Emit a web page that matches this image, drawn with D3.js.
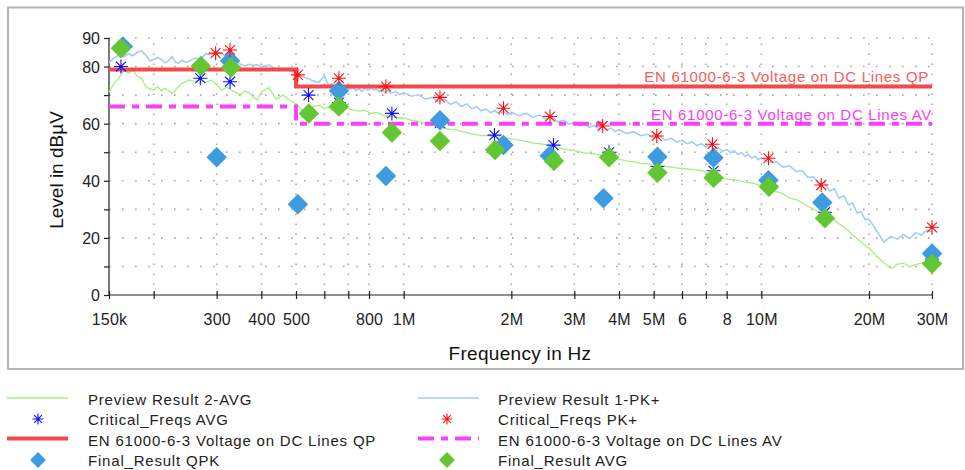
<!DOCTYPE html>
<html><head><meta charset="utf-8">
<script src="https://cdn.jsdelivr.net/npm/d3@7"></script>
<style>
html,body{margin:0;padding:0;background:#fff;}
svg{display:block;font-family:"Liberation Sans",Arial,sans-serif;}
</style></head>
<body>
<svg id="chart" width="965" height="470"></svg>
<script>
// ---------- DATA (frequency in MHz, level in dBµV) ----------
const xTickValues = [0.15,0.2,0.3,0.4,0.5,0.6,0.7,0.8,1,2,3,4,5,6,7,8,10,20,30];
const xTickLabels = ["150k","","300","400","500","","","800","1M","2M","3M","4M","5M","6","","8","10M","20M","30M"];
const yTickValues = [0,10,20,30,40,50,60,70,80,90];
const yTickLabels = ["0","","20","","40","","60","","80","90"];

const previewPK = [[0.150,81.5],[0.155,83],[0.160,84],[0.165,83.5],[0.170,84.5],[0.175,83.8],[0.180,85],[0.185,85.5],[0.190,84],[0.195,82],
[0.200,82.5],[0.205,83.2],[0.210,82.5],[0.215,81.3],[0.220,82],[0.225,83.5],[0.230,81.5],[0.235,81.2],[0.240,82.3],[0.245,81.5],
[0.250,81.8],[0.260,83],[0.270,82.5],[0.280,84.5],[0.290,84.2],[0.300,85.2],[0.310,84.5],[0.320,83.5],[0.330,83],[0.340,82],
[0.350,80.8],[0.360,80.2],[0.370,80.8],[0.380,80.4],[0.390,80.6],[0.400,80],[0.420,80.5],[0.440,79],[0.460,79.4],[0.480,78.6],
[0.500,77.5],[0.520,76.5],[0.540,75.8],[0.560,74.9],[0.580,74.5],[0.600,76.8],[0.615,73.6],[0.630,74],[0.645,73.2],[0.660,73.8],
[0.675,72.6],[0.690,73],[0.705,72.1],[0.720,72.6],[0.735,71.6],[0.750,72.2],[0.765,71.4],[0.780,72.4],[0.795,71.6],[0.810,72.6],
[0.825,71.8],[0.840,72.2],[0.855,71.2],[0.870,71.8],[0.885,70.9],[0.900,71.6],[0.925,70.6],[0.950,71.3],[0.975,70.2],[1.00,70.9],
[1.05,69.6],[1.10,70.1],[1.15,68.6],[1.20,69.2],[1.25,67.8],[1.30,68.6],[1.35,66.8],[1.40,67.6],[1.45,66],[1.50,66.9],
[1.55,65.2],[1.60,65.9],[1.65,64.5],[1.70,65.1],[1.75,63.8],[1.80,64.6],[1.85,63.3],[1.90,64.2],[1.95,63.1],[2.0,64],
[2.1,62.8],[2.2,63.6],[2.3,62.2],[2.4,63],[2.5,61.6],[2.6,62.2],[2.7,60.6],[2.8,61.2],[2.9,59.8],[3.0,60.5],
[3.1,59.2],[3.2,59.9],[3.3,58.6],[3.4,59.4],[3.5,58.3],[3.6,59.1],[3.7,57.8],[3.8,58.4],[3.9,57.2],[4.0,57.9],
[4.2,56.6],[4.4,57.1],[4.6,55.8],[4.8,56.3],[5.0,55],[5.2,55.6],[5.4,54.2],[5.6,54.9],[5.8,53.6],[6.0,54.2],
[6.2,53],[6.4,53.6],[6.6,52.3],[6.8,53],[7.0,51.8],[7.2,52.4],[7.4,51.2],[7.6,51.6],[7.8,50.3],[8.0,51],
[8.2,49.8],[8.4,50.5],[8.6,49.2],[8.8,49.9],[9.0,48.6],[9.2,49.3],[9.4,47.9],[9.6,48.6],[9.8,47.4],[10,48],
[10.5,46.5],[11,46.8],[11.5,44.8],[12,45.2],[12.5,43.2],[13,43.6],[13.5,41.2],[14,41.4],[14.5,38.6],[15,39.6],
[15.5,36.4],[16,37.2],[16.5,33.8],[17,34.8],[17.5,31.6],[18,32.2],[18.5,28.8],[19,29.2],[19.5,26.4],[20,26.6],
[21,22.5],[22,18.5],[23,20.5],[24,19.6],[25,21.2],[26,19.8],[27,21.8],[28,21],[29,22.6],[30,22.2]];

const previewAVG = [[0.150,71],[0.155,74],[0.160,76],[0.165,78.8],[0.170,77.7],[0.175,78.8],[0.180,76.5],[0.185,75.9],[0.190,73],[0.195,72.2],
[0.200,71.8],[0.205,73],[0.210,71.5],[0.215,72.4],[0.220,71.5],[0.225,70.6],[0.230,71.8],[0.235,73],[0.240,74.2],[0.245,74.5],
[0.250,75.3],[0.260,74.8],[0.270,75.3],[0.280,74.5],[0.290,75.3],[0.300,73.6],[0.310,71.8],[0.320,72.8],[0.330,71.8],[0.340,70.8],
[0.350,70.2],[0.360,71.4],[0.370,70.8],[0.380,69.2],[0.390,68.3],[0.400,71.2],[0.420,72.6],[0.440,68.5],[0.460,70],[0.480,68.3],
[0.500,67],[0.520,64.8],[0.540,64.2],[0.560,66],[0.580,66.5],[0.600,65.2],[0.615,65.8],[0.630,64.6],[0.645,65.4],[0.660,64.8],
[0.690,65.6],[0.720,64.8],[0.750,64.4],[0.780,64.6],[0.810,63.6],[0.840,63.9],[0.870,63],[0.900,62.6],[0.950,62.2],[1.00,61.9],
[1.05,61.2],[1.10,60.8],[1.15,60],[1.20,59.4],[1.25,58.8],[1.30,58.4],[1.35,58],[1.40,57.9],[1.45,57.3],[1.50,56.9],
[1.55,56.4],[1.60,56.2],[1.65,55.8],[1.70,55.9],[1.80,55.4],[1.90,55.1],[2.0,54.7],[2.1,54.2],[2.2,53.8],[2.3,53.2],
[2.4,53],[2.5,52.6],[2.6,52.2],[2.8,51.1],[3.0,50.6],[3.2,49.8],[3.4,49.4],[3.6,48.8],[3.8,48.2],[4.0,47.5],
[4.2,47],[4.4,46.6],[4.6,46.1],[4.8,46],[5.0,45.6],[5.2,45.5],[5.4,45],[5.6,44.8],[5.8,44.5],[6.0,44.3],
[6.4,44],[6.8,43.6],[7.2,42.1],[7.6,41.4],[8.0,40.6],[8.5,40.2],[9.0,39.6],[9.5,39.1],[10,38.3],[10.5,37.1],
[11,36.2],[11.5,35.4],[12,33.9],[12.5,33.4],[13,32.4],[13.5,31],[14,30.2],[14.5,29],[15,28.4],[15.5,27.4],
[16,26.3],[16.5,24.9],[17,23.7],[17.5,22.6],[18,21],[18.5,19.9],[19,18.6],[19.5,17.4],[20,16.4],[21,13.6],
[22,11.3],[23,9.4],[23.5,9.8],[24,10.8],[25,11.1],[26,9.9],[27,10.6],[28,11.2],[29,11.7],[30,12]];

const criticalAVG = [[0.162,80.0],[0.270,75.9],[0.327,74.7],[0.542,70.0],[0.659,67.4],[0.927,63.6],[1.263,60.2],[1.794,56.0],[2.623,52.5],[3.75,50.0],[5.12,45.0],[7.35,43.5],[10.5,39.0],[15.06,29.0],[30,12.6]];
const criticalPK = [[0.298,84.7],[0.327,85.8],[0.506,77.1],[0.659,75.9],[0.892,73.0],[1.263,69.2],[1.901,65.4],[2.565,62.5],[3.60,59.2],[5.10,55.7],[7.30,52.8],[10.47,47.9],[14.7,38.5],[30,23.7]];
const finalQPK = [[0.164,87.0],[0.300,48.2],[0.327,82.0],[0.506,31.8],[0.659,71.5],[0.892,41.7],[1.263,61.2],[1.901,52.5],[2.56,48.8],[3.62,33.9],[5.12,48.4],[7.35,48.1],[10.47,40.2],[14.8,32.4],[30,14.5]];
const finalAVG = [[0.162,86.4],[0.271,80.2],[0.329,79.7],[0.543,63.6],[0.659,66.0],[0.927,56.9],[1.263,53.9],[1.80,50.8],[2.63,46.9],[3.75,48.2],[5.12,42.8],[7.35,41.1],[10.5,37.9],[15.06,26.9],[30,10.9]];
const limitQP = [[0.15,79],[0.5,79],[0.5,73],[30,73]];
const limitAV = [[0.15,66],[0.5,66],[0.5,60],[30,60]];

const labelQP = "EN 61000-6-3 Voltage on DC Lines QP";
const labelAV = "EN 61000-6-3 Voltage on DC Lines AV";
const legendLeft = ["Preview Result 2-AVG","Critical_Freqs AVG","EN 61000-6-3 Voltage on DC Lines QP","Final_Result QPK"];
const legendRight = ["Preview Result 1-PK+","Critical_Freqs PK+","EN 61000-6-3 Voltage on DC Lines AV","Final_Result AVG"];

// ---------- STYLE ----------
const C = {
  pk: "#a4cdf6", avg: "#a6ef7c", qp: "#f5484a", av: "#fb40fb",
  qpk: "#3d9be0", favg: "#63c734", critAvg: "#1010ff", critPk: "#ff1010",
  qpText: "#f2605c", avText: "#f53ff5", axis: "#222", grid: "#a8a8a8"
};

const svg = d3.select("#chart");
const x = d3.scaleLog().domain([0.15, 30]).range([109, 932]);
const y = d3.scaleLinear().domain([0, 90]).range([295, 38]);

// frame
svg.append("rect").attr("x", 8).attr("y", 7.5).attr("width", 955).attr("height", 361.5)
  .attr("fill", "none").attr("stroke", "#b4b4b4").attr("stroke-width", 2);

// grid
const grid = svg.append("g");
grid.selectAll(".hg").data(yTickValues.filter(v => v > 0)).join("line")
  .attr("x1", x(0.15)).attr("x2", x(30)).attr("y1", d => y(d)).attr("y2", d => y(d))
  .attr("stroke", C.grid).attr("stroke-width", 1.6).attr("stroke-dasharray", "1.6,11.4");
grid.selectAll(".vg").data(xTickValues.filter(v => v > 0.15)).join("line")
  .attr("x1", d => x(d)).attr("x2", d => x(d)).attr("y1", y(0)).attr("y2", y(90))
  .attr("stroke", C.grid).attr("stroke-width", 1.6).attr("stroke-dasharray", "1.6,8.4");

// axes
const xAxis = d3.axisBottom(x).tickValues(xTickValues).tickSize(4).tickFormat((d, i) => xTickLabels[i]);
const gx = svg.append("g").attr("transform", `translate(0,${y(0)})`).call(xAxis);
gx.select(".domain").attr("stroke", C.axis).attr("stroke-width", 1.2).attr("d", `M${x(0.15)},0H${x(30)}`);
gx.selectAll(".tick line").attr("y1", -4).attr("y2", 4).attr("stroke", C.axis).attr("stroke-width", 1.2);
gx.selectAll(".tick text").attr("y", 30).attr("dy", 0).attr("fill", "#222")
  .style("font-size", "16px").style("letter-spacing", "0.2px").style("font-family", '"Liberation Sans",Arial,sans-serif');

const yAxis = d3.axisLeft(y).tickValues(yTickValues).tickSize(5).tickFormat((d, i) => yTickLabels[i]);
const gy = svg.append("g").attr("transform", `translate(${x(0.15)},0)`).call(yAxis);
gy.select(".domain").attr("stroke", C.axis).attr("stroke-width", 1.2).attr("d", `M0,${y(0)}V${y(90)}`);
gy.selectAll(".tick line").attr("stroke", C.axis).attr("stroke-width", 1.2);
gy.selectAll(".tick text").attr("x", -9).attr("dy", "0.36em").attr("fill", "#222")
  .style("font-size", "16px").style("font-family", '"Liberation Sans",Arial,sans-serif');

// axis titles
svg.append("text").attr("x", 520).attr("y", 360).attr("text-anchor", "middle")
  .style("font-size", "19px").style("letter-spacing", "0.3px").attr("fill", "#111").text("Frequency in Hz");
svg.append("text").attr("transform", "translate(63,170) rotate(-90)").attr("text-anchor", "middle")
  .style("font-size", "19px").attr("fill", "#111").text("Level in dBµV");

// traces
const line = d3.line().x(d => x(d[0])).y(d => y(d[1]));
const plot = svg.append("g");
plot.append("path").datum(previewAVG).attr("d", line).attr("fill", "none").attr("stroke", C.avg).attr("stroke-width", 1.3);
plot.append("path").datum(previewPK).attr("d", line).attr("fill", "none").attr("stroke", C.pk).attr("stroke-width", 1.6);

// limits
plot.append("path").datum(limitQP).attr("d", line).attr("fill", "none").attr("stroke", C.qp).attr("stroke-width", 4);
plot.append("path").datum(limitAV).attr("d", line).attr("fill", "none").attr("stroke", C.av).attr("stroke-width", 4)
  .attr("stroke-dasharray", "16,7,7,7");
svg.append("text").attr("x", x(30) - 3).attr("y", y(73) - 5).attr("text-anchor", "end")
  .style("font-size", "15px").style("letter-spacing", "0.7px").attr("fill", C.qpText).text(labelQP);
svg.append("text").attr("x", x(30)).attr("y", y(60) - 4).attr("text-anchor", "end")
  .style("font-size", "15px").style("letter-spacing", "0.7px").attr("fill", C.avText).text(labelAV);

// markers
const asterisk = r => {
  const d = r * 0.7071;
  return `M${-r},0H${r}M0,${-r}V${r}M${-d},${-d}L${d},${d}M${-d},${d}L${d},${-d}`;
};
const diamond = d3.symbol(d3.symbolSquare, 210);
function drawAst(g, data, color, r) {
  const s = g.selectAll(null).data(data).join("g").attr("transform", d => `translate(${x(d[0])},${y(d[1])})`);
  s.append("path").attr("d", asterisk(r)).attr("stroke", color).attr("stroke-width", 1.1).attr("fill", "none");
  s.append("circle").attr("r", 1.6).attr("fill", color);
}
function drawDia(g, data, color) {
  g.selectAll(null).data(data).join("path").attr("d", diamond)
    .attr("transform", d => `translate(${x(d[0])},${y(d[1])}) rotate(45)`).attr("fill", color);
}
drawAst(plot, criticalAVG, C.critAvg, 7);
drawDia(plot, finalQPK, C.qpk);
drawDia(plot, finalAVG, C.favg);
drawAst(plot, criticalPK, C.critPk, 7);

// legend
const rows = [399, 419, 440, 460];
const leg = svg.append("g").style("font-size", "15px").style("letter-spacing", "0.8px");
legendLeft.forEach((t, i) => leg.append("text").attr("x", 88).attr("y", rows[i] + 5.5).attr("fill", "#222").text(t));
legendRight.forEach((t, i) => leg.append("text").attr("x", 498).attr("y", rows[i] + 5.5).attr("fill", "#222").text(t));
const sample = (x0, yy, color, w, dash) => leg.append("line").attr("x1", x0).attr("x2", x0 + 61).attr("y1", yy).attr("y2", yy)
  .attr("stroke", color).attr("stroke-width", w).attr("stroke-dasharray", dash || null);
sample(7, rows[0] - 1, C.avg, 1.5);
sample(418, rows[0] - 1, C.pk, 1.5);
sample(7, rows[2] - 1.5, C.qp, 4);
sample(418, rows[2] - 1.5, C.av, 4, "16,7,7,7");
const legAst = (cx, cy, color) => {
  leg.append("path").attr("transform", `translate(${cx},${cy})`).attr("d", asterisk(5.5)).attr("stroke", color).attr("stroke-width", 1.1).attr("fill", "none");
};
legAst(38, rows[1], C.critAvg);
legAst(447, rows[1], C.critPk);
const legDia = d3.symbol(d3.symbolSquare, 125);
leg.append("path").attr("d", legDia).attr("transform", `translate(38,${rows[3]}) rotate(45)`).attr("fill", C.qpk);
leg.append("path").attr("d", legDia).attr("transform", `translate(447,${rows[3]}) rotate(45)`).attr("fill", C.favg);
</script>
</body></html>
